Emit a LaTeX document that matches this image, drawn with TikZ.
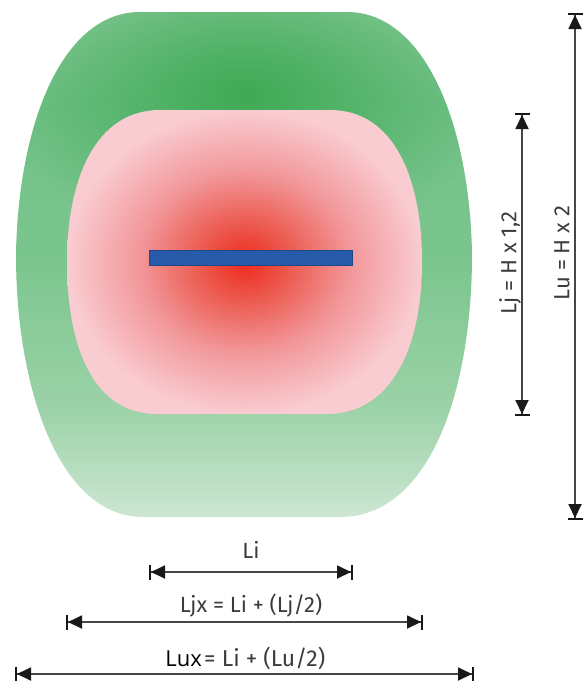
\documentclass[tikz,border=0pt]{standalone}
\usepackage{fontspec}
\setmainfont{Fira Sans}
\newfontfamily\luxfont{Open Sans}
\usetikzlibrary{arrows.meta,fadings}
\definecolor{linegray}{RGB}{70,70,70}
\definecolor{tipblack}{RGB}{25,25,25}
\definecolor{txtgray}{RGB}{60,60,60}
\definecolor{barblue}{RGB}{40,90,170}
\definecolor{gA}{RGB}{205,230,210}
\definecolor{gB}{RGB}{155,210,167}
\definecolor{gC}{RGB}{122,197,141}
\definecolor{gD}{RGB}{115,194,136}
\definecolor{gE}{RGB}{135,201,151}
\definecolor{gDark}{RGB}{62,170,85}
\definecolor{pA}{RGB}{238,42,28}
\definecolor{pB}{RGB}{236,95,85}
\definecolor{pC}{RGB}{242,152,155}
\definecolor{pD}{RGB}{249,204,209}
\pgfdeclareverticalshading{greenv}{100bp}{color(0bp)=(gA); color(25bp)=(gA); color(36bp)=(gB); color(51bp)=(gC); color(66bp)=(gD); color(75bp)=(gE); color(100bp)=(gE)}
\pgfdeclareradialshading{pinkrad}{\pgfpoint{0bp}{0bp}}{color(0bp)=(pA); color(7bp)=(pB); color(15bp)=(pC); color(25bp)=(pD); color(50bp)=(pD)}
\tikzfading[name=softspot, inner color=transparent!0, outer color=transparent!100]
\tikzset{
  dimline/.style={draw=linegray, line width=1.8pt,
    {Bar[width=15pt,line width=2pt,color=tipblack]Triangle[length=14pt,width=13pt,color=tipblack]}-{Triangle[length=14pt,width=13pt,color=tipblack]Bar[width=15pt,line width=2pt,color=tipblack]}},
  dimtext/.style={text=txtgray, font=\fontsize{22}{24}\selectfont, inner sep=0pt},
}
\begin{document}
\begin{tikzpicture}[x=1pt,y=-1pt]
\useasboundingbox (0,0) rectangle (583,681);
% outer green zone
\begin{scope}
\clip (140,12) -- (347,12) .. controls (425,12) and (470,125) .. (472,255)
  .. controls (472,390) and (430,517) .. (340,517) -- (143,517)
  .. controls (60,517) and (16,390) .. (16,255)
  .. controls (18,125) and (62,12) .. (140,12) -- cycle;
\shade[shading=greenv] (10,12) rectangle (480,517);
\fill[gDark, path fading=softspot] (245,95) ellipse [x radius=250, y radius=150];
\end{scope}
% inner pink zone
\shade[shading=pinkrad]
  (160,110) -- (330,110) .. controls (395,110) and (422,180) .. (422,262)
  .. controls (422,350) and (390,414) .. (327,414) -- (157,414)
  .. controls (95,414) and (67,350) .. (67,262)
  .. controls (67,180) and (95,110) .. (160,110) -- cycle;
% blue bar
\node[fill=barblue, draw=barblue!80!black, line width=0.4pt, minimum width=203pt, minimum height=15pt, inner sep=0pt] (bar) at (250.5,257.5) {};
% coordinates for dimension lines
\coordinate (liA) at (149,572);
\coordinate (liB) at (353,572);
\coordinate (ljxA) at (66,622);
\coordinate (ljxB) at (423,622);
\coordinate (luxA) at (15,674);
\coordinate (luxB) at (474,674);
\coordinate (ljT) at (522,113);
\coordinate (ljB) at (522,416);
\coordinate (luT) at (575,13);
\coordinate (luB) at (575,520);
\draw[dimline] (liA) -- (liB);
\draw[dimline] (ljxA) -- (ljxB);
\draw[dimline] (luxA) -- (luxB);
\draw[dimline] (ljB) -- (ljT);
\draw[dimline] (luB) -- (luT);
% labels
\node[dimtext] (tli) at (251,550) {Li};
\node[dimtext] (tljx) at (251,606) {Ljx = Li + (Lj/2)};
\node[dimtext, anchor=base west, font=\fontsize{23}{25}\selectfont] (tlu) at (204,666) {= Li + (Lu/2)};
\node[inner sep=0pt, anchor=base east, font=\luxfont\fontsize{22}{24}\selectfont] (tlux) at ([xshift=-2pt]tlu.base west) {Lux};
\node[dimtext, rotate=90] (tlj) at (510,263) {Lj = H x 1,2};
\node[dimtext, rotate=90] (tlu2) at (562,253) {Lu = H x 2};
\end{tikzpicture}
\end{document}
